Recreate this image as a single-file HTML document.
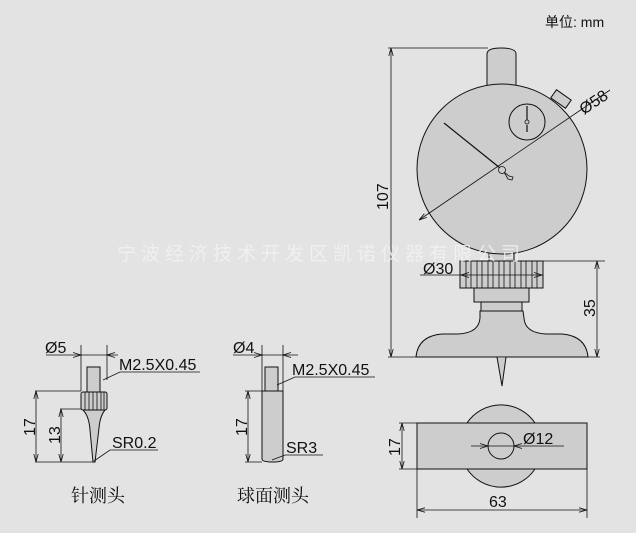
<!DOCTYPE html>
<html><head><meta charset="utf-8"><style>
html,body{margin:0;padding:0;background:#e3e3e3;}
svg{display:block;}
text{font-family:"Liberation Sans",Arial,sans-serif;fill:#111;}
.cn{font-family:"Liberation Sans","Noto Sans CJK SC",sans-serif;}
.cs{font-family:"Liberation Serif","Noto Serif CJK SC",serif;}
</style></head><body>
<svg width="636" height="533" viewBox="0 0 636 533" xmlns="http://www.w3.org/2000/svg">
<defs>
<marker id="a" markerWidth="8" markerHeight="6" refX="8" refY="3" orient="auto-start-reverse" markerUnits="userSpaceOnUse"><path d="M0,0.8 L8,3 L0,5.2" fill="none" stroke="#111" stroke-width="0.8"/></marker>
</defs>
<rect width="636" height="533" fill="#e3e3e3"/>
<text x="545" y="27" font-size="14" class="cn">单位: mm</text>

<g stroke="#111" stroke-width="1" fill="#cdcdcd">
<path d="M487,86 L487,54 Q487,48 501,48 Q516,48 516,54 L516,86 Z"/>
<rect x="489" y="250" width="25" height="12"/>
<circle cx="502" cy="169" r="85"/>
<circle cx="527" cy="122" r="18"/>
<rect x="552" y="94" width="18" height="10" transform="rotate(35 561 99)"/>
<rect x="460" y="261" width="83" height="27"/>
<rect x="474" y="288" width="55" height="14"/>
<rect x="481" y="302" width="41" height="9"/>
<path d="M480,311 L480,318 Q479,333 458,334 L442,334 Q418,336 416,357 L588,357 Q586,336 562,334 L546,334 Q525,333 524,318 L523,311 Z"/>
<path d="M497,357 L502,386 L506,357"/>
<path d="M467,423 A41,41 0 0 1 535,423 Z M467,469 A41,41 0 0 0 535,469 Z"/>
<rect x="417" y="423" width="170" height="46"/>
<circle cx="501" cy="446" r="13"/>
<rect x="87" y="367" width="13" height="25"/>
<rect x="81" y="392" width="26" height="18" rx="2"/>
<path d="M83,410 Q89,416 90,430 L93,462 L95,462 L99,428 Q100,416 105,410 Z"/>
<rect x="265" y="367" width="13" height="24"/>
<path d="M262,391 L283,391 L283,459 Q283,462 273,462 Q262,462 262,459 Z"/>
</g>
<g stroke="#111" stroke-width="0.8" fill="none">
<path d="M466,261v27M471,261v27M477,261v27M482,261v27M488,261v27M493,261v27M499,261v27M504,261v27M510,261v27M515,261v27M521,261v27M526,261v27M532,261v27M537,261v27"/>
<path d="M85,392v18M89,392v18M93,392v18M97,392v18M101,392v18M104,392v18"/>
<path d="M444,123 L500,168" stroke-width="1.2"/>
<path d="M504,172 L509,176 L513,177 L512,180 L508,179 Z" fill="#cdcdcd"/>
<circle cx="502" cy="170" r="3.5" fill="#cdcdcd"/>
<path d="M527,106 L527,120 M527,125 L527,132" stroke-width="1.2"/>
<circle cx="527" cy="122" r="2" fill="#cdcdcd"/>
<path d="M419,220 L610,90" marker-start="url(#a)"/>
<path d="M388,48 L488,48 M388,357 L600,357"/>
<path d="M391,48 L391,357" marker-start="url(#a)" marker-end="url(#a)"/>
<path d="M420,275 L543,275"/>
<path d="M469,272.5 L461,275 L469,277.5 M534,272.5 L542,275 L534,277.5"/>
<path d="M543,261 L605,261"/>
<path d="M597,261 L597,357" marker-start="url(#a)" marker-end="url(#a)"/>
<path d="M399,423 L417,423 M399,469 L417,469"/>
<path d="M402,423 L402,469" marker-start="url(#a)" marker-end="url(#a)"/>
<path d="M417,469 L417,518 M587,469 L587,518"/>
<path d="M417,510 L587,510" marker-start="url(#a)" marker-end="url(#a)"/>
<path d="M471,446 L564,446"/>
<path d="M480,443.5 L488,446 L480,448.5 M522,443.5 L514,446 L522,448.5"/>
<path d="M81,345 L81,391 M107,345 L107,380"/>
<path d="M46,355 L107,355"/>
<path d="M73,352.5 L81,355 L73,357.5 M115,352.5 L107,355 L115,357.5 M107,355 L118,355"/>
<path d="M103,380 L120,372 L200,372"/>
<path d="M35,391 L81,391 M35,462 L94,462 M60,409 L81,409"/>
<path d="M36,391 L36,462" marker-start="url(#a)" marker-end="url(#a)"/>
<path d="M61,409 L61,462" marker-start="url(#a)" marker-end="url(#a)"/>
<path d="M94,461 L110,450 L158,450"/>
<path d="M262,345 L262,391 M283,345 L283,391"/>
<path d="M233,355 L298,355"/>
<path d="M254,352.5 L262,355 L254,357.5 M291,352.5 L283,355 L291,357.5"/>
<path d="M277,385 L295,377 L375,377"/>
<path d="M245,391 L262,391 M245,462 L262,462"/>
<path d="M248,391 L248,462" marker-start="url(#a)" marker-end="url(#a)"/>
<path d="M272,460 L285,455 L323,455"/>
</g>
<g font-size="16">
<text x="0" y="0" transform="translate(584,115) rotate(-34)">Ø58</text>
<text x="0" y="0" transform="translate(388,210) rotate(-90)">107</text>
<text x="423" y="274">Ø30</text>
<text x="0" y="0" transform="translate(595,317) rotate(-90)">35</text>
<text x="523" y="444">Ø12</text>
<text x="0" y="0" transform="translate(400,456) rotate(-90)">17</text>
<text x="489" y="507">63</text>
<text x="45" y="353">Ø5</text>
<text x="119" y="370">M2.5X0.45</text>
<text x="0" y="0" transform="translate(35,436) rotate(-90)">17</text>
<text x="0" y="0" transform="translate(60,444) rotate(-90)">13</text>
<text x="112" y="448">SR0.2</text>
<text x="233" y="353">Ø4</text>
<text x="292" y="375">M2.5X0.45</text>
<text x="0" y="0" transform="translate(247,436) rotate(-90)">17</text>
<text x="286" y="453">SR3</text>
</g>
<text x="71" y="502" font-size="18" class="cs">针测头</text>
<text x="237" y="502" font-size="18" class="cs">球面测头</text>
<text x="117" y="260" font-size="19" letter-spacing="5" class="cn" style="fill:#f2f2f2;fill-opacity:0.8">宁波经济技术开发区凯诺仪器有限公司</text>
</svg>
</body></html>
